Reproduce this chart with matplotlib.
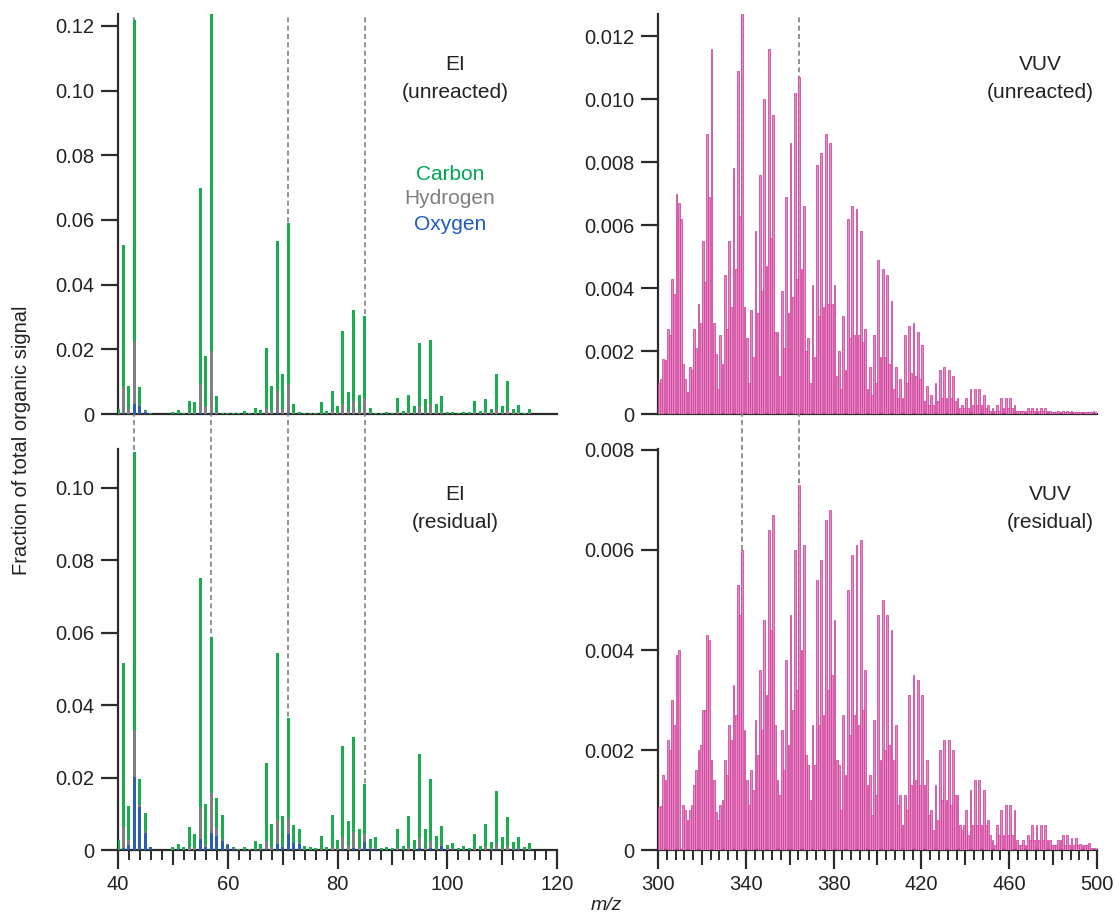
import matplotlib
matplotlib.use("Agg")
import matplotlib.pyplot as plt
from matplotlib.ticker import FixedLocator, MultipleLocator, FuncFormatter

plt.rcParams['font.family'] = ['Liberation Sans', 'DejaVu Sans']

# ---------------- EI data (m/z 40..120) ----------------
ei_mz = list(range(40, 121))

ei_unreacted_carbon = [
    0.0013, 0.0437, 0.0072, 0.0993, 0.0057, 0.0004, 0.0001, 0, 0, 0,
    0.0005, 0.0012, 0.0004, 0.0036, 0.0032, 0.0605, 0.0154, 0.1154, 0.0051, 0.0004,
    0.0002, 0.0002, 0.0002, 0.0009, 0.0003, 0.0018, 0.0011, 0.0184, 0.0077, 0.0464,
    0.0109, 0.0497, 0.0027, 0.0005, 0.0003, 0.0003, 0.0003, 0.0032, 0.0009, 0.0064,
    0.0021, 0.0227, 0.0057, 0.0281, 0.0051, 0.0254, 0.0017, 0.0004, 0.0003, 0.0005,
    0.0003, 0.0044, 0.0009, 0.0052, 0.0021, 0.0196, 0.0041, 0.0200, 0.0026, 0.0050,
    0.0005, 0.0005, 0.0003, 0.0005, 0.0005, 0.0035, 0.0009, 0.0040, 0.0013, 0.0109,
    0.0023, 0.0091, 0.0013, 0.0026, 0.0003, 0.0013, 0, 0, 0, 0, 0]
ei_unreacted_hydrogen = [
    0.0002, 0.0082, 0.0015, 0.0194, 0.0004, 0.0002, 0, 0, 0, 0,
    0, 0.0001, 0, 0.0004, 0.0004, 0.0091, 0.0026, 0.0193, 0.0006, 0,
    0, 0, 0, 0.0001, 0, 0.0002, 0.0001, 0.0020, 0.0010, 0.0070,
    0.0015, 0.0091, 0.0004, 0, 0, 0, 0, 0.0004, 0.0001, 0.0008,
    0.0003, 0.0030, 0.0010, 0.0040, 0.0008, 0.0050, 0.0003, 0, 0, 0,
    0, 0.0006, 0.0001, 0.0007, 0.0003, 0.0025, 0.0006, 0.0030, 0.0004, 0.0007,
    0, 0, 0, 0, 0, 0.0005, 0.0001, 0.0006, 0.0002, 0.0015,
    0.0003, 0.0012, 0.0002, 0.0003, 0, 0.0002, 0, 0, 0, 0, 0]
ei_unreacted_oxygen = [
    0, 0.0003, 0, 0.0031, 0.0024, 0.0006, 0.0001, 0, 0, 0,
    0, 0, 0, 0, 0, 0.0002, 0, 0.0003, 0, 0,
    0, 0, 0, 0, 0, 0, 0, 0, 0, 0.0002,
    0, 0.0002, 0, 0, 0, 0, 0, 0, 0, 0,
    0, 0, 0, 0, 0, 0, 0, 0, 0, 0,
    0, 0, 0, 0, 0, 0, 0, 0, 0, 0,
    0, 0, 0, 0, 0, 0, 0, 0, 0, 0,
    0, 0, 0, 0, 0, 0, 0, 0, 0, 0, 0]

ei_residual_carbon = [
    0.0028, 0.0452, 0.0094, 0.0768, 0.0070, 0.0049, 0.0000, 0, 0, 0,
    0.0008, 0.0014, 0.0008, 0.0056, 0.0039, 0.0631, 0.0111, 0.0433, 0.0084, 0.0068,
    0.0000, 0.0003, 0.0003, 0.0007, 0.0003, 0.0021, 0.0014, 0.0215, 0.0065, 0.0460,
    0.0082, 0.0277, 0.0051, 0.0040, 0.0010, 0.0007, 0.0006, 0.0036, 0.0009, 0.0090,
    0.0025, 0.0252, 0.0070, 0.0262, 0.0049, 0.0138, 0.0025, 0.0030, 0.0006, 0.0009,
    0.0005, 0.0051, 0.0011, 0.0086, 0.0025, 0.0234, 0.0052, 0.0172, 0.0036, 0.0052,
    0.0013, 0.0015, 0.0006, 0.0011, 0.0006, 0.0039, 0.0010, 0.0065, 0.0021, 0.0143,
    0.0031, 0.0082, 0.0019, 0.0030, 0.0009, 0.0016, 0, 0, 0, 0, 0]
ei_residual_hydrogen = [
    0, 0.0059, 0.0014, 0.0130, 0.0006, 0.0006, 0.0001, 0, 0, 0,
    0, 0, 0, 0.0008, 0.0005, 0.0089, 0.0007, 0.0108, 0.0020, 0.0004,
    0.0002, 0.0002, 0, 0, 0, 0.0003, 0.0002, 0.0023, 0.0008, 0.0066,
    0.0004, 0.0044, 0, 0.0002, 0.0001, 0, 0, 0.0004, 0, 0.0008,
    0.0003, 0.0032, 0.0010, 0.0045, 0.0008, 0.0021, 0.0002, 0.0001, 0, 0,
    0, 0.0006, 0.0001, 0.0008, 0.0003, 0.0027, 0.0006, 0.0020, 0.0004, 0.0005,
    0.0002, 0.0002, 0, 0, 0, 0.0005, 0.0001, 0.0008, 0.0002, 0.0016,
    0.0004, 0.0010, 0.0002, 0.0002, 0, 0.0002, 0, 0, 0, 0, 0]
ei_residual_oxygen = [
    0, 0.0005, 0.0014, 0.0202, 0.0119, 0.0046, 0.0008, 0, 0, 0,
    0.0001, 0.0002, 0.0001, 0, 0, 0.0030, 0.0008, 0.0048, 0.0040, 0.0026,
    0.0014, 0.0004, 0, 0, 0, 0, 0, 0.0003, 0, 0.0017,
    0.0008, 0.0043, 0.0018, 0.0016, 0, 0, 0, 0, 0, 0,
    0, 0.0003, 0, 0.0005, 0, 0.0023, 0.0004, 0.0004, 0, 0,
    0, 0, 0, 0, 0, 0.0005, 0, 0.0005, 0, 0.0010,
    0, 0.0003, 0, 0, 0, 0, 0, 0, 0, 0.0004,
    0, 0, 0, 0.0003, 0, 0, 0, 0, 0, 0, 0]

# ---------------- VUV data (m/z 300..500) ----------------
vuv_mz = list(range(300, 501))

vuv_unreacted = [
    0.0010, 0.0011, 0.00174, 0.0017, 0.0027, 0.0025, 0.0043, 0.0038, 0.0070, 0.0067,
    0.0062, 0.0016, 0.0011, 0.0007, 0.0015, 0.0014, 0.0027, 0.0021, 0.0035, 0.0029,
    0.0055, 0.0042, 0.0089, 0.0069, 0.0116, 0.0029, 0.0019, 0.0008, 0.0025, 0.0016,
    0.0044, 0.0027, 0.0055, 0.0034, 0.0078, 0.0046, 0.0109, 0.0063, 0.0135, 0.0034,
    0.0024, 0.0010, 0.0033, 0.0018, 0.0058, 0.0032, 0.0076, 0.0039, 0.0100, 0.0047,
    0.0116, 0.0056, 0.0095, 0.0026, 0.0026, 0.0012, 0.0039, 0.0021, 0.0069, 0.0032,
    0.0086, 0.0037, 0.0102, 0.0043, 0.0107, 0.0046, 0.0066, 0.0020, 0.0024, 0.0010,
    0.0041, 0.0018, 0.0079, 0.0031, 0.0083, 0.0034, 0.0089, 0.0035, 0.0086, 0.0035,
    0.0041, 0.0012, 0.0020, 0.0008, 0.0031, 0.0014, 0.0062, 0.0024, 0.0066, 0.0025,
    0.0065, 0.0025, 0.0058, 0.0023, 0.0027, 0.0008, 0.0015, 0.0006, 0.0025, 0.0010,
    0.0049, 0.0018, 0.0046, 0.0018, 0.0044, 0.0016, 0.0036, 0.0008, 0.0015, 0.0005,
    0.0011, 0.0005, 0.0025, 0.0010, 0.0028, 0.0013, 0.0029, 0.0012, 0.0026, 0.0011,
    0.0022, 0.0004, 0.0009, 0.0003, 0.0006, 0.0003, 0.0010, 0.0004, 0.0014, 0.0005,
    0.0015, 0.0005, 0.0014, 0.0005, 0.0012, 0.0004, 0.0005, 0.0002, 0.0003, 0.0002,
    0.0005, 0.0002, 0.0008, 0.0003, 0.0008, 0.0003, 0.0008, 0.0003, 0.0006, 0.0002,
    0.0003, 0.0001, 0.0002, 0.0001, 0.0003, 0.0001, 0.0005, 0.0002, 0.0005, 0.0002,
    0.0005, 0.0002, 0.0003, 0.0001, 0.0001, 0.0001, 0.0001, 0.0001, 0.0002, 0.0001,
    0.0002, 0.0001, 0.0002, 0.0001, 0.0002, 0.0001, 0.0002, 0.0001, 0.0001, 0.00005,
    0.00005, 0.00005, 0.0001, 0.00005, 0.0001, 0.00005, 0.0001, 0.00005, 0.0001, 0.00005,
    0.00005, 0.00005, 0.00005, 0.00005, 0.00005, 0.00005, 0.00005, 0.00005, 0.0001, 0.00005,
    0.0001]

vuv_residual = [
    0.00087, 0.00089, 0.0015, 0.0014, 0.0022, 0.0020, 0.0030, 0.0025, 0.0039, 0.0040,
    0.00003, 0.0009, 0.0008, 0.0006, 0.0008, 0.0009, 0.0013, 0.0016, 0.0020, 0.0021,
    0.0028, 0.0028, 0.0043, 0.0042, 0.0018, 0.0014, 0.00077, 0.0006, 0.0009, 0.0010,
    0.0018, 0.0015, 0.0025, 0.0022, 0.0033, 0.0027, 0.0053, 0.0047, 0.0060, 0.0024,
    0.0014, 0.0009, 0.0016, 0.0012, 0.0026, 0.0019, 0.0036, 0.0024, 0.0046, 0.0031,
    0.0064, 0.0044, 0.0067, 0.0025, 0.0014, 0.0011, 0.0024, 0.0016, 0.0038, 0.0021,
    0.0047, 0.0028, 0.0060, 0.0032, 0.0073, 0.0040, 0.0061, 0.0019, 0.0017, 0.0010,
    0.0025, 0.0017, 0.0054, 0.0025, 0.0058, 0.0027, 0.0066, 0.0032, 0.0068, 0.0035,
    0.0046, 0.0018, 0.0017, 0.0008, 0.0027, 0.0015, 0.0052, 0.0023, 0.0059, 0.0027,
    0.0061, 0.0025, 0.0062, 0.0028, 0.0036, 0.0013, 0.0015, 0.0007, 0.0026, 0.0011,
    0.0047, 0.0018, 0.0050, 0.0020, 0.0047, 0.0021, 0.0044, 0.0018, 0.0025, 0.0009,
    0.0011, 0.0005, 0.0011, 0.0008, 0.0031, 0.0013, 0.0035, 0.0014, 0.0034, 0.0013,
    0.0031, 0.0013, 0.0018, 0.0007, 0.0008, 0.0004, 0.0013, 0.0006, 0.0020, 0.0010,
    0.0022, 0.0010, 0.0022, 0.0009, 0.0020, 0.0011, 0.0011, 0.0005, 0.0004, 0.0005,
    0.0008, 0.0003, 0.0012, 0.0005, 0.0014, 0.0005, 0.0014, 0.0005, 0.0012, 0.0005,
    0.0006, 0.0003, 0.0002, 0.0001, 0.0005, 0.0003, 0.0008, 0.0003, 0.0009, 0.0003,
    0.0009, 0.0003, 0.0008, 0.0002, 0.0001, 0.0001, 0.0002, 0.0001, 0.0003, 0.0002,
    0.0005, 0.0002, 0.0005, 0.0002, 0.0005, 0.0002, 0.0005, 0.0002, 0.0002, 0.0001,
    0.0001, 0.0001, 0.0002, 0.0002, 0.0003, 0.0001, 0.0003, 0.0001, 0.00025, 0.0001,
    0.00025, 0.0001, 0.00013, 0.0001, 0.0001, 0.0001, 0.00015, 0.00005, 0.00005, 0.00005,
    0.00005]

ei_marker_mz = [43, 57, 71, 85]
vuv_marker_mz = [338, 364]

# ---------------- styling ----------------
C_CARBON = '#1aad4e'
C_HYDRO = '#7f7f7f'
C_OXY = '#2a5cb8'
C_PINK = '#e68bc3'
C_PINK_EDGE = '#cc3596'
AX_COL = '#2b2b2b'
TXT = '#222222'

W, H = 1114, 919
fig = plt.figure(figsize=(W / 100, H / 100), dpi=100)


def rect(x0, y0, x1, y1):
    return [x0 / W, 1 - y1 / H, (x1 - x0) / W, (y1 - y0) / H]


ax_tl = fig.add_axes(rect(118, 14, 557, 414))
ax_bl = fig.add_axes(rect(118, 449, 557, 850))
ax_tr = fig.add_axes(rect(658, 14, 1097, 414))
ax_br = fig.add_axes(rect(658, 449, 1097, 850))

TICK_FS = 14.5


def style(ax, show_x):
    for s in ['top', 'right']:
        ax.spines[s].set_visible(False)
    for s in ['left', 'bottom']:
        ax.spines[s].set_color(AX_COL)
        ax.spines[s].set_linewidth(1.6)
    ax.tick_params(axis='y', direction='out', length=12, width=1.6,
                   color=AX_COL, labelsize=TICK_FS, labelcolor=TXT, pad=5)
    if not show_x:
        ax.tick_params(axis='x', which='both', bottom=False, labelbottom=False)
    else:
        ax.tick_params(axis='x', which='major', direction='out', length=14,
                       width=1.6, color=AX_COL, labelsize=TICK_FS, labelcolor=TXT, pad=4)
        ax.tick_params(axis='x', which='minor', direction='out', length=7,
                       width=1.4, color=AX_COL)


def fmt_ei(v, pos):
    return '0' if abs(v) < 1e-12 else f'{v:.2f}'


def fmt_vuv(v, pos):
    return '0' if abs(v) < 1e-12 else f'{v:.3f}'


def ei_bars(ax, c, h, o):
    bw = 0.55
    ax.bar(ei_mz, o, width=bw, color=C_OXY, zorder=3, linewidth=0)
    bot = [a for a in o]
    ax.bar(ei_mz, h, width=bw, bottom=bot, color=C_HYDRO, zorder=3, linewidth=0)
    bot2 = [a + b for a, b in zip(o, h)]
    ax.bar(ei_mz, c, width=bw, bottom=bot2, color=C_CARBON, zorder=3, linewidth=0)


def vuv_bars(ax, vals):
    ax.bar(vuv_mz, vals, width=0.82, align='edge', color=C_PINK,
           edgecolor=C_PINK_EDGE, linewidth=0.5, zorder=3)


# EI panels
ei_bars(ax_tl, ei_unreacted_carbon, ei_unreacted_hydrogen, ei_unreacted_oxygen)
ei_bars(ax_bl, ei_residual_carbon, ei_residual_hydrogen, ei_residual_oxygen)
for ax, top in [(ax_tl, 0.1237), (ax_bl, 0.1107)]:
    ax.set_xlim(40, 120)
    ax.set_ylim(0, top)
    ax.yaxis.set_major_locator(FixedLocator([0, 0.02, 0.04, 0.06, 0.08, 0.10, 0.12]))
    ax.yaxis.set_major_formatter(FuncFormatter(fmt_ei))

# VUV panels
vuv_bars(ax_tr, vuv_unreacted)
vuv_bars(ax_br, vuv_residual)
ax_tr.set_xlim(300, 500)
ax_br.set_xlim(300, 500)
ax_tr.set_ylim(0, 0.0127)
ax_br.set_ylim(0, 0.00802)
ax_tr.yaxis.set_major_locator(FixedLocator([0, 0.002, 0.004, 0.006, 0.008, 0.010, 0.012]))
ax_br.yaxis.set_major_locator(FixedLocator([0, 0.002, 0.004, 0.006, 0.008]))
for ax in (ax_tr, ax_br):
    ax.yaxis.set_major_formatter(FuncFormatter(fmt_vuv))

style(ax_tl, False)
style(ax_tr, False)
style(ax_bl, True)
style(ax_br, True)

# bottom x ticks
ax_bl.xaxis.set_major_locator(FixedLocator([40, 60, 80, 100, 120]))
ax_bl.xaxis.set_minor_locator(MultipleLocator(2))
ax_br.xaxis.set_major_locator(FixedLocator([300, 340, 380, 420, 460, 500]))
ax_br.xaxis.set_minor_locator(MultipleLocator(4))
for ax, med in [(ax_bl, [50, 70, 90, 110]), (ax_br, [320, 360, 400, 440, 480])]:
    sec = ax.secondary_xaxis('bottom')
    sec.set_xticks(med)
    sec.tick_params(axis='x', direction='out', length=10.5, width=1.5,
                    color=AX_COL, labelbottom=False)
    for s in sec.spines.values():
        s.set_visible(False)

# dashed marker lines spanning both panels
gap_frac = (449 - 414) / (850 - 449)
for x in ei_marker_mz:
    ax_tl.axvline(x, color='#808080', lw=1.2, ls=(0, (3, 2)), zorder=1)
    ax_bl.axvline(x, ymin=0, ymax=1 + gap_frac, color='#808080', lw=1.2,
                  ls=(0, (3, 2)), zorder=1, clip_on=False)
for x in vuv_marker_mz:
    ax_tr.axvline(x + 0.45, color='#808080', lw=1.2, ls=(0, (3, 2)), zorder=1)
    ax_br.axvline(x + 0.45, ymin=0, ymax=1 + gap_frac, color='#808080', lw=1.2,
                  ls=(0, (3, 2)), zorder=1, clip_on=False)

# annotations
fs = 15
fig.text(455 / W, 1 - 65 / H, 'EI', ha='center', va='center', fontsize=fs, color=TXT)
fig.text(455 / W, 1 - 92 / H, '(unreacted)', ha='center', va='center', fontsize=fs, color=TXT)
fig.text(450 / W, 1 - 174 / H, 'Carbon', ha='center', va='center', fontsize=fs, color='#00a651')
fig.text(450 / W, 1 - 199 / H, 'Hydrogen', ha='center', va='center', fontsize=fs, color='#7f7f7f')
fig.text(450 / W, 1 - 225 / H, 'Oxygen', ha='center', va='center', fontsize=fs, color='#1f5bbd')
fig.text(1040 / W, 1 - 65 / H, 'VUV', ha='center', va='center', fontsize=fs, color=TXT)
fig.text(1040 / W, 1 - 92 / H, '(unreacted)', ha='center', va='center', fontsize=fs, color=TXT)
fig.text(455 / W, 1 - 495 / H, 'EI', ha='center', va='center', fontsize=fs, color=TXT)
fig.text(455 / W, 1 - 522 / H, '(residual)', ha='center', va='center', fontsize=fs, color=TXT)
fig.text(1050 / W, 1 - 495 / H, 'VUV', ha='center', va='center', fontsize=fs, color=TXT)
fig.text(1050 / W, 1 - 522 / H, '(residual)', ha='center', va='center', fontsize=fs, color=TXT)

fig.text(22 / W, 1 - 440 / H, 'Fraction of total organic signal', rotation=90,
         ha='center', va='center', fontsize=14.5, color=TXT)
fig.text(606 / W, 1 - 906 / H, 'm/z', ha='center', va='center', fontsize=14,
         style='italic', color=TXT)

fig.savefig('out.png', dpi=100, facecolor='white')
